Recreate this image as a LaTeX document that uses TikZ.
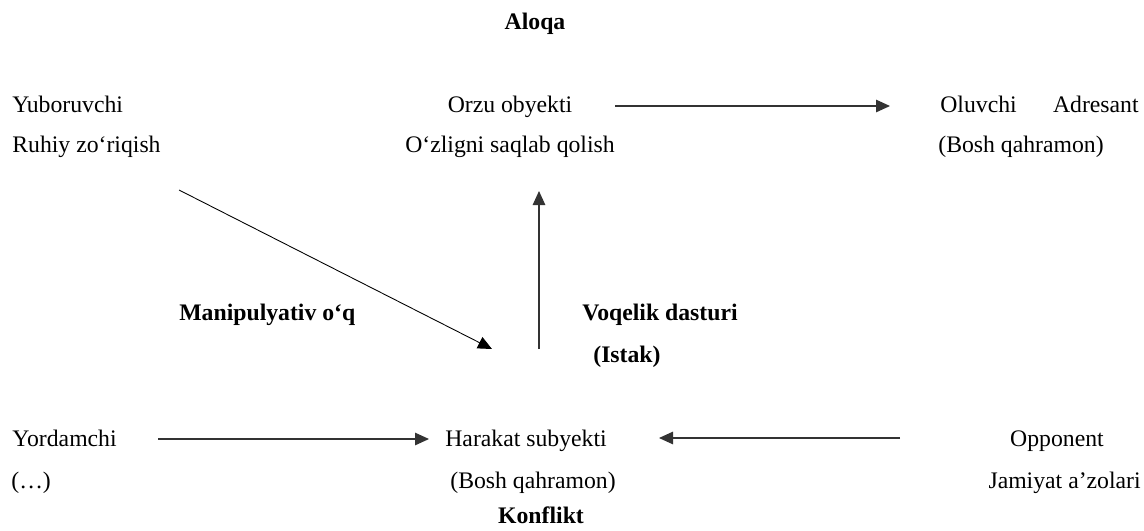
\documentclass[tikz,border=0pt]{standalone}
\usepackage{fontspec}
\setmainfont{Liberation Serif}
\usetikzlibrary{arrows.meta}

\begin{document}
\begin{tikzpicture}[>={Triangle[length=0.28cm,width=0.25cm]},x=0.02cm,y=-0.02cm,
  every node/.style={inner sep=0pt,font=\fontsize{13.5}{16}\selectfont},
  role/.style={anchor=base west},
  head/.style={anchor=base,font=\fontsize{13.5}{16}\selectfont\bfseries},
  link/.style={->,line width=0.7pt,black!80}]
\useasboundingbox (0,0) rectangle (1144,531);
\node[head] (aloqa) at (535,29) {Aloqa};
\node[head] (konflikt) at (541,523) {Konflikt};
% top row
\node[role] (yuboruvchi) at (12,112) {Yuboruvchi};
\node[role] (ruhiy) at (12,152) {Ruhiy zo‘riqish};
\node[anchor=base] (orzu) at (510,112) {Orzu obyekti};
\node[anchor=base] (ozlik) at (510,152) {O‘zligni saqlab qolish};
\node[role] (oluvchi) at (940,112) {Oluvchi};
\node[anchor=base east] (adresant) at (1139,112) {Adresant};
\node[role] (bosh) at (938,152) {(Bosh qahramon)};
% middle labels
\node[head,anchor=base west] (manip) at (179,320) {Manipulyativ o‘q};
\node[head,anchor=base west] (voqelik) at (582,320) {Voqelik dasturi};
\node[head,anchor=base west] (istak) at (593,362) {(Istak)};
% bottom row
\node[role] (yordamchi) at (12,446) {Yordamchi};
\node[role] (dots) at (11,488) {(…)};
\node[role] (harakat) at (445,446) {Harakat subyekti};
\node[role] (qahramon) at (450,488) {(Bosh qahramon)};
\node[anchor=base] (opponent) at (1057,446) {Opponent};
\node[anchor=base east] (jamiyat) at (1141,488) {Jamiyat a’zolari};
% arrow ends
\coordinate (A1) at (615,106);
\coordinate (A2) at (890,106);
\coordinate (B1) at (179,190);
\coordinate (B2) at (492,349);
\coordinate (C1) at (539,349);
\coordinate (C2) at (539,191);
\coordinate (D1) at (158,439);
\coordinate (D2) at (429,439);
\coordinate (E1) at (900,438);
\coordinate (E2) at (659,438);
\draw[link] (A1)--(A2);
\draw[link,line width=0.5pt,black] (B1)--(B2);
\draw[link] (C1)--(C2);
\draw[link] (D1)--(D2);
\draw[link] (E1)--(E2);
\end{tikzpicture}
\end{document}
